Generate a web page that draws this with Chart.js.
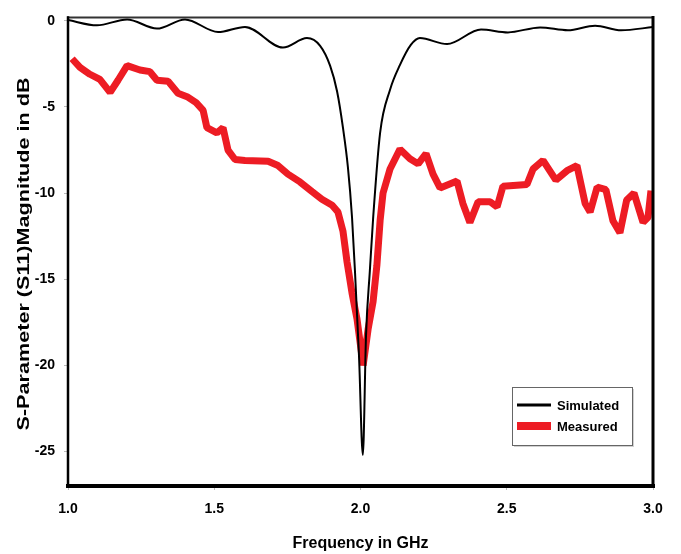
<!DOCTYPE html>
<html>
<head>
<meta charset="utf-8">
<script src="https://cdn.jsdelivr.net/npm/chart.js@4/dist/chart.umd.min.js"></script>
<style>
  html, body { margin: 0; padding: 0; background: #fff; }
  #wrap { width: 681px; height: 554px; }
</style>
</head>
<body>
<div id="wrap"><canvas id="c" width="681" height="554"></canvas></div>
<script>
// Simulated S11 (GHz, dB)
const simFreq = [1.000, 1.099, 1.202, 1.304, 1.400, 1.513, 1.605, 1.735, 1.817, 1.862,
                 1.896, 1.920, 1.940, 1.957, 1.971, 1.981, 1.995, 2.008, 2.019, 2.032,
                 2.043, 2.067, 2.101, 2.135, 2.172, 2.203, 2.296, 2.412, 2.504, 2.614,
                 2.709, 2.802, 2.891, 3.000];
const simDb   = [0.05, -0.26, 0.08, -0.45, 0.08, -0.65, -0.35, -1.55, -1.0, -1.45,
                 -2.6, -4.1, -6.2, -8.5, -11.4, -14.5, -19.5, -25.2, -18.2, -14.5,
                 -11.5, -6.5, -4.0, -2.56, -1.4, -1.0, -1.35, -0.5, -0.67, -0.38,
                 -0.55, -0.28, -0.55, -0.36];

// Measured S11 (GHz, dB)
const measFreq = [1.014, 1.041, 1.075, 1.109, 1.144, 1.171, 1.202, 1.246, 1.280, 1.304,
                  1.342, 1.376, 1.407, 1.438, 1.462, 1.475, 1.509, 1.530, 1.547, 1.571,
                  1.605, 1.684, 1.718, 1.752, 1.793, 1.834, 1.868, 1.903, 1.923, 1.940,
                  1.954, 1.971, 1.988, 2.009, 2.026, 2.043, 2.056, 2.067, 2.077, 2.101,
                  2.135, 2.169, 2.197, 2.224, 2.248, 2.272, 2.330, 2.350, 2.374, 2.402,
                  2.443, 2.467, 2.487, 2.569, 2.590, 2.624, 2.668, 2.706, 2.740, 2.768,
                  2.785, 2.809, 2.839, 2.863, 2.887, 2.910, 2.935, 2.966, 2.983, 2.993];
const measDb   = [-2.2, -2.7, -3.1, -3.4, -4.15, -3.45, -2.6, -2.85, -2.95, -3.45,
                  -3.5, -4.2, -4.4, -4.75, -5.2, -6.2, -6.5, -6.2, -7.5, -8.05,
                  -8.1, -8.15, -8.4, -8.9, -9.35, -9.9, -10.35, -10.7, -11.1, -12.2,
                  -14.0, -15.8, -17.3, -20.0, -17.9, -16.3, -14.2, -11.6, -10.0, -8.6,
                  -7.45, -8.0, -8.3, -7.7, -8.9, -9.7, -9.3, -10.6, -11.7, -10.5,
                  -10.5, -10.8, -9.6, -9.5, -8.6, -8.1, -9.25, -8.7, -8.4, -10.6,
                  -11.1, -9.65, -9.8, -11.6, -12.3, -10.4, -10.0, -11.7, -11.4, -9.85];

const xTicks = [1.0, 1.5, 2.0, 2.5, 3.0];
const yTicks = [0, -5, -10, -15, -20, -25];

const xTitle = 'Frequency in GHz';
const yTitle = 'S-Parameter (S11)Magnitude in dB';
const seriesNames = ['Simulated', 'Measured'];

const FONT = 'Arial, "Liberation Sans", sans-serif';

const toPoints = (xs, ys) => xs.map((x, i) => ({ x: x, y: ys[i] }));

// Box around the plotting area
const framePlugin = {
  id: 'frame',
  afterDatasetsDraw(chart) {
    const { ctx, chartArea: a } = chart;
    ctx.save();
    ctx.lineCap = 'square';
    ctx.strokeStyle = '#333';
    ctx.lineWidth = 2;
    ctx.beginPath(); ctx.moveTo(a.left, a.top); ctx.lineTo(a.right, a.top); ctx.stroke();
    ctx.strokeStyle = '#000';
    ctx.lineWidth = 3;
    ctx.beginPath(); ctx.moveTo(a.right, a.top); ctx.lineTo(a.right, a.bottom); ctx.stroke();
    ctx.lineWidth = 2.5;
    ctx.beginPath(); ctx.moveTo(a.left, a.top); ctx.lineTo(a.left, a.bottom); ctx.stroke();
    ctx.lineWidth = 4;
    ctx.beginPath(); ctx.moveTo(a.left, a.bottom); ctx.lineTo(a.right, a.bottom); ctx.stroke();
    ctx.restore();
  }
};

// Vertical axis title, stretched along its length
const yTitlePlugin = {
  id: 'yTitle',
  afterDraw(chart) {
    const ctx = chart.ctx;
    ctx.save();
    ctx.font = 'bold 16px ' + FONT;
    const w = ctx.measureText(yTitle).width;
    ctx.translate(25, 254);
    ctx.rotate(-Math.PI / 2);
    ctx.scale(353 / w, 1);
    ctx.textAlign = 'center';
    ctx.textBaseline = 'middle';
    ctx.fillStyle = '#000';
    ctx.fillText(yTitle, 0, 0);
    ctx.restore();
  }
};

// Boxed legend in the lower right of the plot
const legendPlugin = {
  id: 'boxLegend',
  afterDraw(chart) {
    const ctx = chart.ctx;
    const bx = 512, by = 387, bw = 120, bh = 58;
    ctx.save();
    ctx.fillStyle = 'rgba(0,0,0,0.18)';
    ctx.fillRect(bx + 2, by + 2, bw, bh);
    ctx.fillStyle = '#fff';
    ctx.fillRect(bx, by, bw, bh);
    ctx.strokeStyle = '#666';
    ctx.lineWidth = 1;
    ctx.strokeRect(bx + 0.5, by + 0.5, bw, bh);
    const rows = [405, 426];
    chart.data.datasets.forEach((ds, i) => {
      const y = rows[i];
      ctx.strokeStyle = ds.borderColor;
      ctx.lineWidth = i === 0 ? 3 : 8;
      ctx.lineCap = 'butt';
      ctx.beginPath(); ctx.moveTo(517, y); ctx.lineTo(551, y); ctx.stroke();
      ctx.fillStyle = '#000';
      ctx.font = 'bold 13px ' + FONT;
      ctx.textAlign = 'left';
      ctx.textBaseline = 'middle';
      ctx.fillText(ds.label, 557, y + 1);
    });
    ctx.restore();
  }
};

new Chart(document.getElementById('c'), {
  type: 'line',
  data: {
    datasets: [
      {
        label: seriesNames[0],
        data: toPoints(simFreq, simDb),
        borderColor: '#000000',
        borderWidth: 2,
        pointRadius: 0,
        cubicInterpolationMode: 'monotone',
        fill: false
      },
      {
        label: seriesNames[1],
        data: toPoints(measFreq, measDb),
        borderColor: '#ED1C24',
        borderWidth: 7,
        borderJoinStyle: 'bevel',
        pointRadius: 0,
        tension: 0,
        fill: false
      }
    ]
  },
  options: {
    responsive: false,
    animation: false,
    events: [],
    layout: { padding: { left: 0, right: 28, top: 12, bottom: 0 } },
    plugins: {
      legend: { display: false },
      tooltip: { enabled: false }
    },
    scales: {
      x: {
        type: 'linear',
        min: 1,
        max: 3,
        afterFit(scale) { scale.height = 68; },
        afterBuildTicks(scale) { scale.ticks = xTicks.map(v => ({ value: v })); },
        border: { display: false },
        grid: { drawOnChartArea: false, drawTicks: true, tickLength: 4, color: '#bbb' },
        ticks: {
          padding: 11,
          color: '#000',
          font: { family: FONT, size: 14, weight: 'bold' },
          callback: v => Number(v).toFixed(1)
        },
        title: {
          display: true,
          text: xTitle,
          color: '#000',
          font: { family: FONT, size: 16, weight: 'bold' },
          padding: { top: 0, bottom: 1 }
        }
      },
      y: {
        type: 'linear',
        min: -27,
        max: 0.2,
        afterFit(scale) { scale.width = 68; },
        afterBuildTicks(scale) { scale.ticks = yTicks.map(v => ({ value: v })); },
        border: { display: false },
        grid: { drawOnChartArea: false, drawTicks: true, tickLength: 4, color: '#bbb' },
        ticks: {
          padding: 9,
          color: '#000',
          font: { family: FONT, size: 14, weight: 'bold' },
          callback: v => String(v)
        },
        title: { display: false }
      }
    }
  },
  plugins: [framePlugin, yTitlePlugin, legendPlugin]
});
</script>
</body>
</html>
